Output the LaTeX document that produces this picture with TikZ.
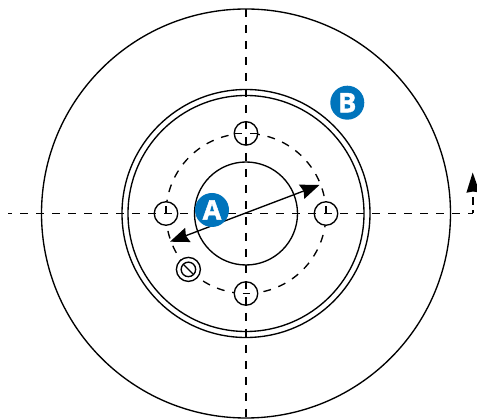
\documentclass[tikz,border=0pt]{standalone}
\usepackage{fontspec}
\setsansfont{Open Sans}
\newfontfamily\badgefont[UprightFont=* Bold,FakeBold=1.6]{Open Sans}
\usetikzlibrary{arrows.meta}
\definecolor{bluebadge}{RGB}{0,116,188}
\tikzset{
  px/.style={x=1pt,y=-1pt},
  ln/.style={line width=1.35pt,black},
  dsh/.style={line width=1.35pt,black,dash pattern=on 8pt off 8pt},
  bolt/.style={circle,draw=black,fill=white,line width=1.35pt,minimum size=23.5pt,inner sep=0pt},
  badge/.style={circle,fill=bluebadge,text=white,minimum size=34pt,inner sep=0pt,font=\badgefont\fontsize{27}{27}\selectfont},
  tick/.style={line width=1.35pt,black},
  dhead/.style={{Stealth[length=19pt,width=15pt,inset=2pt]}-{Stealth[length=19pt,width=15pt,inset=2pt]}},
  uphead/.style={-{Stealth[length=20pt,width=13pt,inset=1pt]}}
}
\begin{document}
\begin{tikzpicture}[px]
\useasboundingbox (0,0) rectangle (477,419);
\coordinate (c) at (246,213.5);
\draw[ln] (c) circle[radius=204.5];
\draw[ln] (c) circle[radius=124];
\draw[ln] (c) circle[radius=118];
\draw[ln] (c) circle[radius=51.5];
\draw[ln,dash pattern=on 7.854pt off 7.854pt,dash phase=9.7pt] (c) circle[radius=80];
% bolts
\node[bolt] (bt) at (246,133.4) {};
\node[bolt] (bl) at (166,213.5) {};
\node[bolt] (br) at (326,213.5) {};
\node[bolt] (bb) at (246,293.5) {};
\node[bolt,minimum size=24pt] (bs) at (188.4,269.4) {};
\node[circle,draw=black,line width=1.35pt,minimum size=14.5pt,inner sep=0pt] (bsi) at (bs) {};
\draw[tick] (183.8,264.8) -- (193,274);
% centre lines
\coordinate (L) at (8,213.5);
\coordinate (K) at (473,213.5);
\coordinate (Ku) at (473,190);
\coordinate (Kt) at (472.7,172.5);
\coordinate (T) at (246,9);
\coordinate (Bt) at (246,418);
\draw[dsh] (T) -- (Bt);
\draw[dsh,dash phase=4pt] (L) -- (K);
\draw[line width=1.35pt,dash pattern=on 3.5pt off 5pt on 8pt off 10pt] (K) -- (Ku);
\draw[line width=1.35pt,uphead] (Ku) -- (Kt);
% bolt ticks
\draw[tick] (bt.west) -- ++(8,0) (bt.east) -- ++(-8,0);
\draw[tick] (bl.center) -- ++(0,-7);
\draw[tick] (br.center) -- ++(0,-7);
\draw[tick] (242.5,293.5) -- (250,293.5);
% diameter arrow
\coordinate (dA) at (170,241.7);
\coordinate (dB) at (319.5,185);
\draw[ln,dhead] (dA) -- (dB);
% badges
\node[badge] (A) at (212,210) {A};
\node[badge] (B) at (347.3,102.7) {B};
\end{tikzpicture}
\end{document}
